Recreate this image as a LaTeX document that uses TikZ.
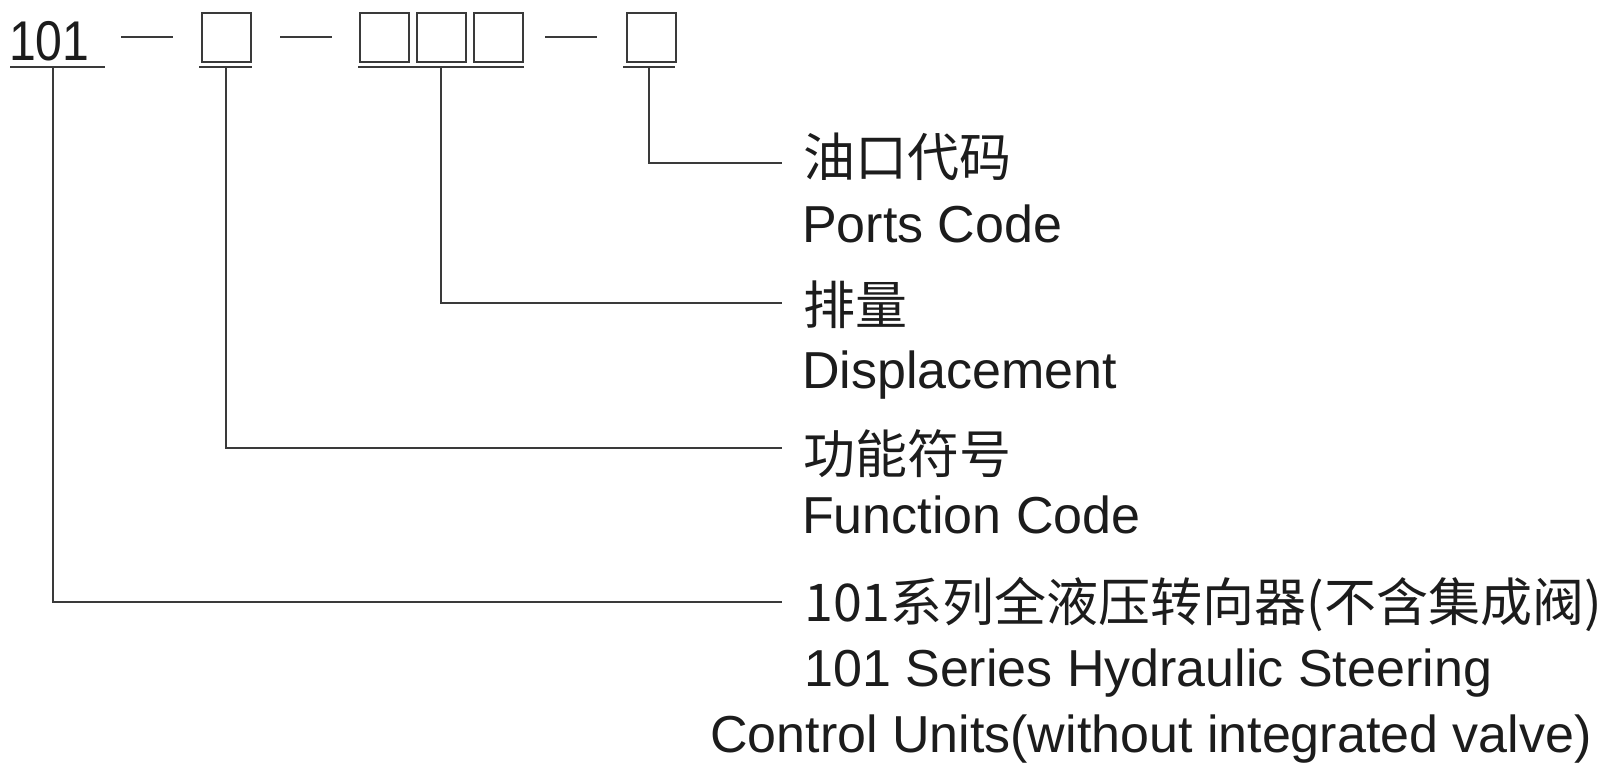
\documentclass[tikz,border=0pt]{standalone}
\usepackage{fontspec}
\setmainfont{Liberation Sans}
\newfontfamily\cjk{Noto Sans CJK SC}
\definecolor{ln}{HTML}{3A3A3A}
\definecolor{tx}{HTML}{1C1C1C}
\begin{document}
\begin{tikzpicture}[x=1pt,y=-1pt,
  codebox/.style={draw=ln,line width=2pt,minimum width=49pt,minimum height=49pt,inner sep=0pt,outer sep=0pt,anchor=north west},
  ulbar/.style={fill=ln,inner sep=0pt,outer sep=0pt,minimum height=2.6pt},
  dashbar/.style={fill=ln,inner sep=0pt,outer sep=0pt,minimum height=2.4pt,minimum width=52pt},
  lead/.style={draw=ln,line width=2pt},
  en/.style={anchor=base west,inner sep=0pt,text=tx,font=\fontsize{52}{60}\selectfont},
  zh/.style={anchor=base west,inner sep=0pt,text=tx,font=\cjk\fontsize{52}{60}\selectfont},
]
\useasboundingbox (0,0) rectangle (1601,777);
\fill[white] (0,0) rectangle (1601,777);

% code string
\node[anchor=base west,inner sep=0pt,text=tx,font=\fontsize{56}{60}\selectfont] (c101) at (9,60) {\scalebox{0.86}[1]{101}};
\node[dashbar] (d1) at (147,37) {};
\node[codebox] (b1) at (202,13) {};
\node[dashbar] (d2) at (305.5,37) {};
\node[codebox] (b2) at (360,13) {};
\node[codebox] (b3) at (417,13) {};
\node[codebox] (b4) at (474,13) {};
\node[dashbar] (d3) at (571,37) {};
\node[codebox] (b5) at (627,13) {};

% underlines
\node[ulbar,minimum width=95pt] (ul0) at (57.5,67) {};
\node[ulbar,minimum width=53pt] (ul1) at (225.5,67) {};
\node[ulbar,minimum width=166pt] (ul2) at (441,67) {};
\node[ulbar,minimum width=52pt] (ul3) at (649,67) {};

% leader ends
\coordinate (e1) at (782,163);
\coordinate (e2) at (782,303);
\coordinate (e3) at (782,448);
\coordinate (e4) at (782,602);

% labels
\node[zh] (z1) at (803,176) {油口代码};
\node[en] (t1) at (802,242) {Ports Code};
\node[zh] (z2) at (803,324) {排量};
\node[en] (t2) at (802,388) {Displacement};
\node[zh] (z3) at (803,473) {功能符号};
\node[en] (t3) at (802,533) {Function Code};
\node[zh] (z4) at (804,621) {101系列全液压转向器(不含集成阀)};
\node[en] (t4) at (804,686) {101 Series Hydraulic Steering};
\node[en] (t5) at (710,752) {Control Units(without integrated valve)};

% leaders
\draw[lead] (ul0.south -| 53,0) |- (e4);
\draw[lead] (ul1.south) |- (e3);
\draw[lead] (ul2.south) |- (e2);
\draw[lead] (ul3.south) |- (e1);
\end{tikzpicture}
\end{document}
